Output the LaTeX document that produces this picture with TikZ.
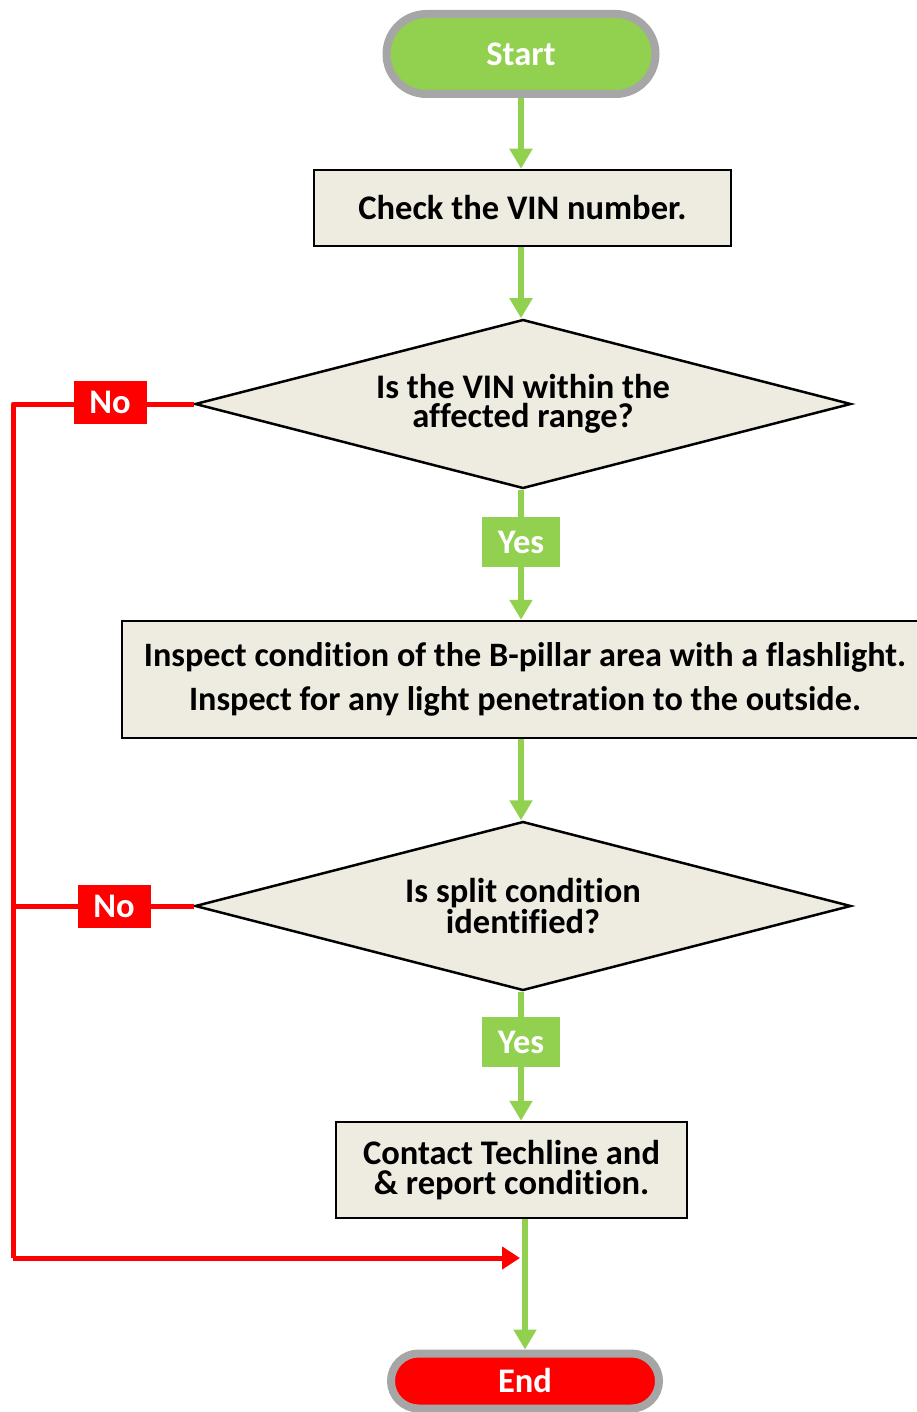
\documentclass[tikz,border=0pt]{standalone}
\usepackage{fontspec}
\setmainfont{Carlito}[Ligatures={NoCommon}]
\usetikzlibrary{shapes.geometric,shapes.misc,arrows.meta}
\definecolor{fgreen}{HTML}{92D050}
\definecolor{fred}{HTML}{FF0000}
\definecolor{fgray}{HTML}{A6A6A6}
\definecolor{fbeige}{HTML}{EEECE1}
\begin{document}
\begin{tikzpicture}[x=1pt,y=-1pt,
  every node/.style={font=\fontsize{34.5}{30}\selectfont\bfseries, inner sep=0pt, align=center},
  term/.style={rounded rectangle, draw=fgray, line width=8pt, minimum width=269pt, text=white},
  procbox/.style={rectangle, draw=black, line width=2.5pt, fill=fbeige},
  decide/.style={diamond, draw=black, line width=2.5pt, fill=fbeige, aspect=3.88, minimum width=656pt, minimum height=169pt, font=\fontsize{34.5}{29}\selectfont\bfseries},
  yeslab/.style={rectangle, fill=fgreen, text=white, minimum width=78pt, minimum height=50pt},
  nolab/.style={rectangle, fill=fred, text=white, minimum width=73pt, minimum height=43pt},
  garrow/.style={draw=fgreen, line width=6pt, -{Triangle[width=22pt,length=20pt]}},
  gline/.style={draw=fgreen, line width=6pt},
  rline/.style={draw=fred, line width=5pt, line join=round},
  rarrow/.style={draw=fred, line width=5pt, line join=round, -{Triangle[width=22pt,length=18pt]}}
]
\useasboundingbox (0,0) rectangle (916,1412);

\node[term, fill=fgreen, minimum height=80pt] (start) at (521,54) {Start};
\node[procbox, minimum width=417pt, minimum height=76pt] (b1) at (522.5,208) {Check the VIN number.};
\node[decide] (d1) at (523,404) {Is the VIN within the\\ affected range?};
\node[procbox, minimum width=806pt, minimum height=117pt, font=\fontsize{34.2}{44}\selectfont\bfseries, text depth=6pt] (b2) at (525,679.5) {Inspect condition of the B-pillar area with a flashlight.\\ Inspect for any light penetration to the outside.};
\node[decide] (d2) at (523,906) {Is split condition\\ identified?};
\node[procbox, minimum width=351pt, minimum height=96pt] (b3) at (511.5,1170) {Contact Techline and\\ \& report condition.};
\node[term, fill=fred, minimum height=55pt, minimum width=268pt] (end) at (525,1381) {End};

\coordinate (rl) at (13,1258);
\coordinate (tip) at (520,1258);

% green flow
\draw[garrow] (start.south) -- (start.south |- b1.north);
\draw[garrow] (b1.south -| start.south) -- (start.south |- d1.north);
\draw[gline] (d1.south -| start.south) -- (start.south |- 0,600);
\draw[garrow] (start.south |- 0,600) -- (start.south |- b2.north);
\draw[garrow] (start.south |- b2.south) -- (start.south |- d2.north);
\draw[gline] (d2.south -| start.south) -- (start.south |- 0,1100);
\draw[garrow] (start.south |- 0,1100) -- (start.south |- b3.north);
\draw[garrow] (b3.south -| end.north) -- (end.north);

% red flow
\draw[rline] (d1.west) -- (d1.west -| rl) -- (rl);
\draw[rarrow] (rl) -- (tip);
\draw[rline] (d2.west) -- (d2.west -| rl);

\node[yeslab] (y1) at (521,542) {Yes};
\node[yeslab] (y2) at (521,1042) {Yes};
\node[nolab] (n1) at (110,402) {No};
\node[nolab] (n2) at (114,906) {No};
\end{tikzpicture}
\end{document}
